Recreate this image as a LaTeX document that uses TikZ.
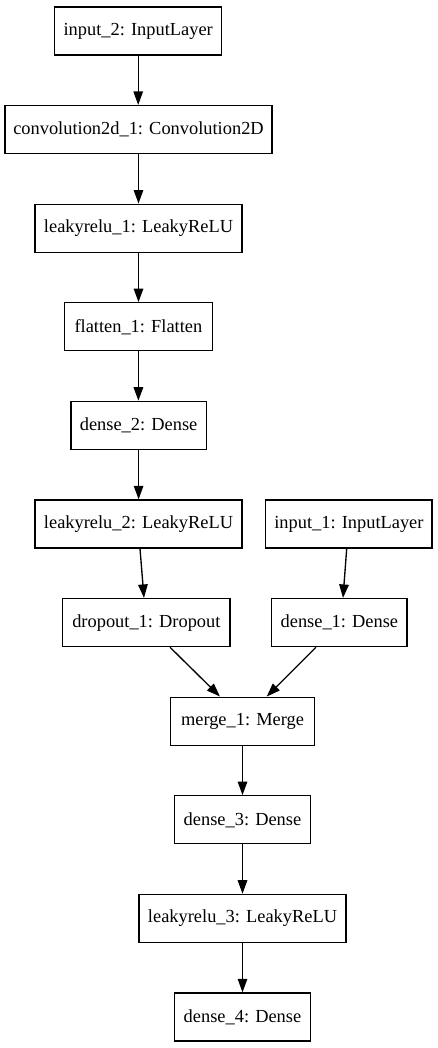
\documentclass[tikz,border=0pt]{standalone}
\usepackage{fontspec}
\setmainfont{Liberation Serif}
\usetikzlibrary{arrows.meta}
\begin{document}
\begin{tikzpicture}[x=1pt,y=-1pt,
  layer/.style={draw=black, line width=1.33pt, rectangle, minimum height=48pt, inner sep=0pt,
    font=\fontsize{18.4pt}{22pt}\selectfont},
  conn/.style={draw=black, line width=1.33pt, -{Triangle[length=13.5pt,width=9.5pt]}}]
\useasboundingbox (0,0) rectangle (437,1048);
\node[layer, minimum width=167pt] (in2) at (138.2,31) {input\_2: InputLayer};
\node[layer, minimum width=267pt] (conv) at (138.5,129.6) {convolution2d\_1: Convolution2D};
\node[layer, minimum width=207pt] (lr1) at (138.5,228.2) {leakyrelu\_1: LeakyReLU};
\node[layer, minimum width=148pt] (fl) at (138.4,326.8) {flatten\_1: Flatten};
\node[layer, minimum width=135.5pt] (d2) at (138.6,425.4) {dense\_2: Dense};
\node[layer, minimum width=207pt] (lr2) at (138.5,524) {leakyrelu\_2: LeakyReLU};
\node[layer, minimum width=166.5pt] (in1) at (348.9,524) {input\_1: InputLayer};
\node[layer, minimum width=167.5pt] (do) at (146.4,622.6) {dropout\_1: Dropout};
\node[layer, minimum width=135.5pt] (d1) at (339.4,622.6) {dense\_1: Dense};
\node[layer, minimum width=143.6pt] (mg) at (242.5,721.2) {merge\_1: Merge};
\node[layer, minimum width=136.5pt] (d3) at (242.5,819.8) {dense\_3: Dense};
\node[layer, minimum width=207pt] (lr3) at (242.5,918.4) {leakyrelu\_3: LeakyReLU};
\node[layer, minimum width=136.5pt] (d4) at (242.5,1017) {dense\_4: Dense};
\draw[conn] (in2.south) -- (in2.south |- conv.north);
\draw[conn] (conv.south) -- (conv.south |- lr1.north);
\draw[conn] (lr1.south) -- (lr1.south |- fl.north);
\draw[conn] (fl.south) -- (fl.south |- d2.north);
\draw[conn] (d2.south) -- (d2.south |- lr2.north);
\draw[conn] ([xshift=1.5pt]lr2.south) -- ([xshift=-2.4pt]do.north);
\draw[conn] ([xshift=-2.2pt]in1.south) -- ([xshift=3.6pt]d1.north);
\draw[conn] ([xshift=23.6pt]do.south) -- ([xshift=-22.5pt]mg.north);
\draw[conn] ([xshift=-23.4pt]d1.south) -- ([xshift=24.2pt]mg.north);
\draw[conn] (mg.south) -- (mg.south |- d3.north);
\draw[conn] (d3.south) -- (d3.south |- lr3.north);
\draw[conn] (lr3.south) -- (lr3.south |- d4.north);
\end{tikzpicture}
\end{document}
